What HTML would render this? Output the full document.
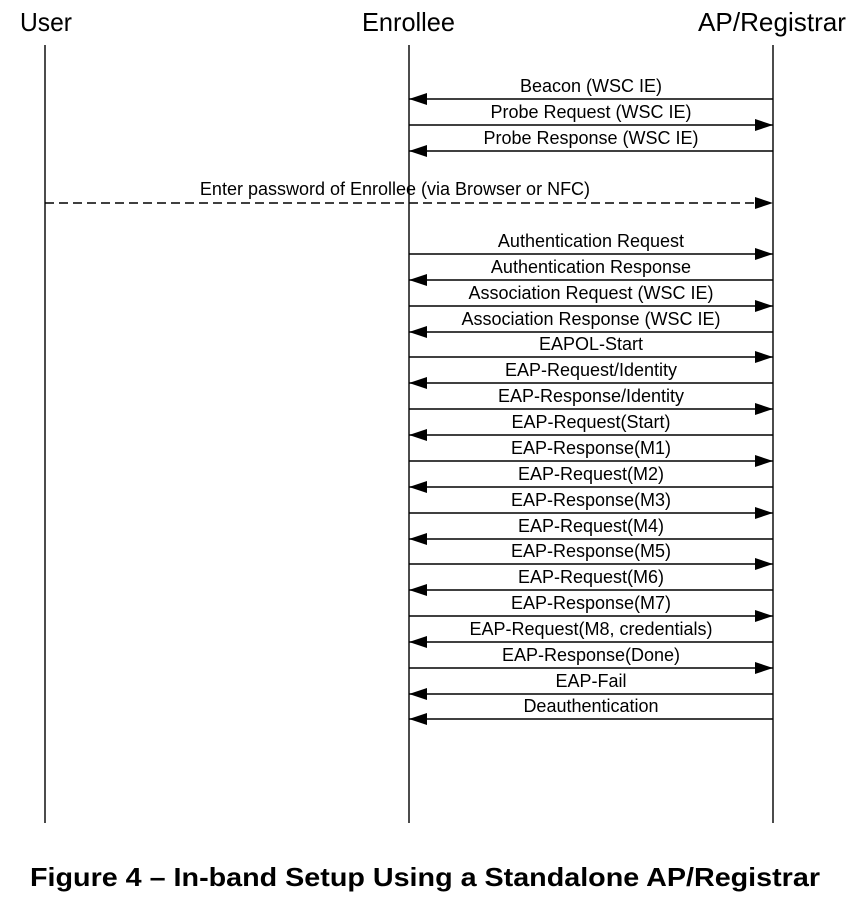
<!DOCTYPE html>
<html><head><meta charset="utf-8"><style>
html,body{margin:0;padding:0;background:#fff;}
svg{display:block;}
text{font-family:"Liberation Sans",Arial,sans-serif;fill:#000;}
</style></head><body>
<svg width="854" height="908" viewBox="0 0 854 908" xmlns="http://www.w3.org/2000/svg">
<defs>
<marker id="ar" markerWidth="18" markerHeight="12" refX="18" refY="6" orient="auto" markerUnits="userSpaceOnUse">
<path d="M0,0 L18,6 L0,12 Z" fill="#000"/>
</marker>
</defs>
<text x="20" y="31" font-size="26" textLength="52" lengthAdjust="spacingAndGlyphs">User</text>
<text x="362" y="31" font-size="26" textLength="93" lengthAdjust="spacingAndGlyphs">Enrollee</text>
<text x="698" y="31" font-size="26" textLength="148" lengthAdjust="spacingAndGlyphs">AP/Registrar</text>
<g stroke="#000" stroke-width="1.4">
<line x1="45" y1="45" x2="45" y2="823"/>
<line x1="409" y1="45" x2="409" y2="823"/>
<line x1="773" y1="45" x2="773" y2="823"/>
</g>
<g stroke="#000" stroke-width="1.4" marker-end="url(#ar)">
<line x1="773" y1="99" x2="409" y2="99"/>
<line x1="409" y1="125" x2="773" y2="125"/>
<line x1="773" y1="151" x2="409" y2="151"/>
<line x1="45" y1="203" x2="773" y2="203" stroke-dasharray="9,5"/>
<line x1="409" y1="254" x2="773" y2="254"/>
<line x1="773" y1="280" x2="409" y2="280"/>
<line x1="409" y1="306" x2="773" y2="306"/>
<line x1="773" y1="332" x2="409" y2="332"/>
<line x1="409" y1="357" x2="773" y2="357"/>
<line x1="773" y1="383" x2="409" y2="383"/>
<line x1="409" y1="409" x2="773" y2="409"/>
<line x1="773" y1="435" x2="409" y2="435"/>
<line x1="409" y1="461" x2="773" y2="461"/>
<line x1="773" y1="487" x2="409" y2="487"/>
<line x1="409" y1="513" x2="773" y2="513"/>
<line x1="773" y1="539" x2="409" y2="539"/>
<line x1="409" y1="564" x2="773" y2="564"/>
<line x1="773" y1="590" x2="409" y2="590"/>
<line x1="409" y1="616" x2="773" y2="616"/>
<line x1="773" y1="642" x2="409" y2="642"/>
<line x1="409" y1="668" x2="773" y2="668"/>
<line x1="773" y1="694" x2="409" y2="694"/>
<line x1="773" y1="719" x2="409" y2="719"/>
</g>
<g font-size="18" text-anchor="middle">
<text x="591" y="92">Beacon (WSC IE)</text>
<text x="591" y="118">Probe Request (WSC IE)</text>
<text x="591" y="144">Probe Response (WSC IE)</text>
<text x="395" y="195">Enter password of Enrollee (via Browser or NFC)</text>
<text x="591" y="247">Authentication Request</text>
<text x="591" y="273">Authentication Response</text>
<text x="591" y="299">Association Request (WSC IE)</text>
<text x="591" y="325">Association Response (WSC IE)</text>
<text x="591" y="350">EAPOL-Start</text>
<text x="591" y="376">EAP-Request/Identity</text>
<text x="591" y="402">EAP-Response/Identity</text>
<text x="591" y="428">EAP-Request(Start)</text>
<text x="591" y="454">EAP-Response(M1)</text>
<text x="591" y="480">EAP-Request(M2)</text>
<text x="591" y="506">EAP-Response(M3)</text>
<text x="591" y="532">EAP-Request(M4)</text>
<text x="591" y="557">EAP-Response(M5)</text>
<text x="591" y="583">EAP-Request(M6)</text>
<text x="591" y="609">EAP-Response(M7)</text>
<text x="591" y="635">EAP-Request(M8, credentials)</text>
<text x="591" y="661">EAP-Response(Done)</text>
<text x="591" y="687">EAP-Fail</text>
<text x="591" y="712">Deauthentication</text>
</g>
<text x="30" y="886" font-size="26" font-weight="bold" textLength="790" lengthAdjust="spacingAndGlyphs">Figure 4 – In-band Setup Using a Standalone AP/Registrar</text>
</svg>
</body></html>
